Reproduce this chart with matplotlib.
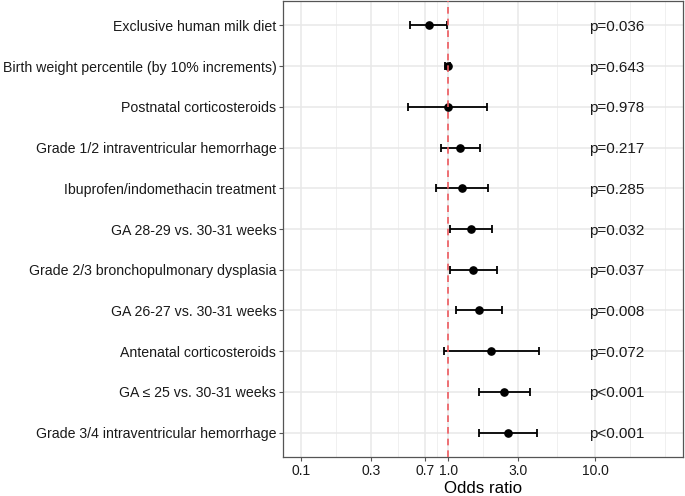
import numpy as np
import matplotlib.pyplot as plt

plt.rcParams['font.family'] = ['Liberation Sans', 'DejaVu Sans']

# Forest plot data (top to bottom)
labels = [
    'Exclusive human milk diet',
    'Birth weight percentile (by 10% increments)',
    'Postnatal corticosteroids',
    'Grade 1/2 intraventricular hemorrhage',
    'Ibuprofen/indomethacin treatment',
    'GA 28-29 vs. 30-31 weeks',
    'Grade 2/3 bronchopulmonary dysplasia',
    'GA 26-27 vs. 30-31 weeks',
    'Antenatal corticosteroids',
    'GA \u2264 25 vs. 30-31 weeks',
    'Grade 3/4 intraventricular hemorrhage',
]
odds = [0.736, 0.99, 0.99, 1.21, 1.242, 1.43, 1.475, 1.628, 1.955, 2.408, 2.535]
ci_low = [0.553, 0.95, 0.533, 0.894, 0.831, 1.034, 1.023, 1.131, 0.937, 1.62, 1.61]
ci_high = [0.975, 1.035, 1.846, 1.654, 1.866, 1.974, 2.148, 2.333, 4.12, 3.60, 4.04]
pvals = ['p=0.036', 'p=0.643', 'p=0.978', 'p=0.217', 'p=0.285', 'p=0.032',
         'p=0.037', 'p=0.008', 'p=0.072', 'p<0.001', 'p<0.001']

x_breaks = [0.1, 0.3, 0.7, 1.0, 3.0, 10.0]
x_break_labels = ['0.1', '0.3', '0.7', '1.0', '3.0', '10.0']
p_text_x = 14

n = len(labels)
y = np.arange(n)[::-1]
odds = np.array(odds)
err = np.array([odds - np.array(ci_low), np.array(ci_high) - odds])

fig = plt.figure(figsize=(6.85, 4.96), dpi=100)
ax = fig.add_axes([0.4135, 0.0786, 0.584, 0.9194])
ax.set_xscale('log')
ax.set_xlim(0.0752, 39.9)
ax.set_ylim(-0.6, n - 0.4)

# grid lines like ggplot theme_bw
all_breaks = x_breaks + [30.0]
minor = [np.sqrt(a * b) for a, b in zip(all_breaks[:-1], all_breaks[1:])]
for v in minor + [30.0]:
    ax.axvline(v, color='#f0f0f0', lw=0.7, zorder=0)
for v in x_breaks:
    ax.axvline(v, color='#e8e8e8', lw=1.1, zorder=0)
for yy in y:
    ax.axhline(yy, color='#e8e8e8', lw=1.1, zorder=0)

ax.errorbar(odds, y, xerr=err, fmt='o', color='black', ms=5.2,
            elinewidth=1.3, capsize=3.2, capthick=1.3, zorder=3)
ax.axvline(1.0, color='#ee5a5f', lw=1.2, ls=(0, (4, 3)), zorder=4)

for yy, p in zip(y, pvals):
    ax.text(p_text_x, yy, p, ha='center', va='center_baseline', fontsize=11, color='#1a1a1a')

ax.set_yticks(y)
ax.set_yticklabels(labels, fontsize=10.2, color='#1a1a1a')
ax.set_xticks(x_breaks)
ax.set_xticklabels(x_break_labels, fontsize=10, color='#1a1a1a')
ax.xaxis.set_minor_locator(plt.NullLocator())
ax.tick_params(axis='both', length=3, width=0.8, color='#555555', pad=2)
ax.set_xlabel('Odds ratio', fontsize=12.2, labelpad=2)

for s in ax.spines.values():
    s.set_color('#555555')
    s.set_linewidth(0.9)

fig.savefig('out.png', dpi=100)
